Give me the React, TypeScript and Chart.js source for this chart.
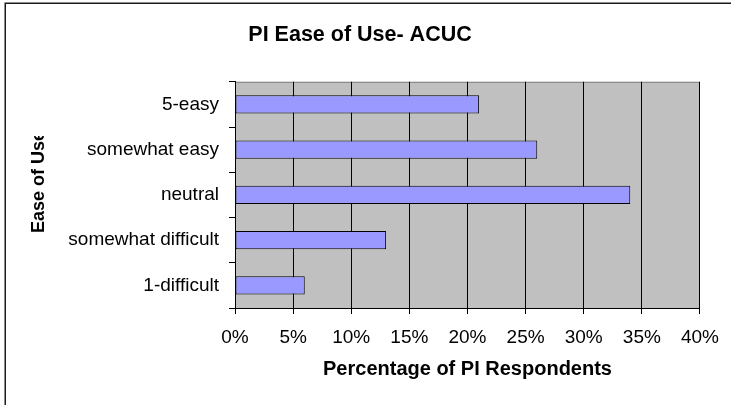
import React, { useEffect, useRef } from "react";
import { Chart, registerables } from "chart.js";

Chart.register(...registerables);

const categories = ["5-easy", "somewhat easy", "neutral", "somewhat difficult", "1-difficult"];
const percentages = [21, 26, 34, 13, 6];
const xTickStep = 5;
const xMin = 0;
const xMax = 40;
const titleText = "PI Ease of Use- ACUC";
const xTitleText = "Percentage of PI Respondents";
const yTitleText = "Ease of Use";

const FONT = "'Liberation Sans', Arial, sans-serif";

const decorPlugin = {
  id: "decor",
  beforeDraw(chart: any) {
    const { ctx, chartArea } = chart;
    ctx.save();
    ctx.fillStyle = "#ffffff";
    ctx.fillRect(0, 0, chart.width, chart.height);
    ctx.strokeStyle = "#1a1a1a";
    ctx.lineWidth = 1.5;
    ctx.beginPath();
    ctx.moveTo(5.25, chart.height);
    ctx.lineTo(5.25, 3.25);
    ctx.lineTo(chart.width, 3.25);
    ctx.stroke();
    ctx.fillStyle = "#C0C0C0";
    ctx.fillRect(chartArea.left, chartArea.top, chartArea.right - chartArea.left, chartArea.bottom - chartArea.top);
    ctx.strokeStyle = "#808080";
    ctx.lineWidth = 1;
    ctx.strokeRect(chartArea.left + 0.5, chartArea.top + 0.5, chartArea.right - chartArea.left - 1, chartArea.bottom - chartArea.top);
    ctx.restore();
  },
  afterDraw(chart: any) {
    const { ctx } = chart;
    ctx.save();
    ctx.beginPath();
    ctx.rect(0, 136, 120, 300);
    ctx.clip();
    ctx.translate(39, 233);
    ctx.rotate(-Math.PI / 2);
    ctx.font = `bold 18px ${FONT}`;
    ctx.fillStyle = "#000";
    ctx.textAlign = "left";
    ctx.textBaseline = "middle";
    ctx.fillText(yTitleText, 0, 0);
    ctx.restore();
  },
};

export default function App() {
  const ref = useRef<HTMLCanvasElement | null>(null);
  useEffect(() => {
    document.body.style.margin = "0";
    document.body.style.overflow = "hidden";
    const canvas = ref.current!;
    const chart = new Chart(canvas, {
      type: "bar",
      data: {
        labels: categories,
        datasets: [
          {
            data: percentages,
            backgroundColor: "#9999FF",
            borderColor: "#000000",
            borderWidth: 1,
            borderSkipped: false,
            categoryPercentage: 1,
            barPercentage: 0.4,
          },
        ],
      },
      options: {
        indexAxis: "y",
        responsive: false,
        animation: false,
        devicePixelRatio: 1,
        layout: { padding: { left: 16, right: 27, top: 0, bottom: 0 } },
        plugins: {
          legend: { display: false },
          tooltip: { enabled: false },
          title: {
            display: true,
            text: titleText,
            color: "#000",
            font: { family: FONT, size: 21.5, weight: "bold" },
            padding: { top: 22, bottom: 34 },
          },
        },
        scales: {
          x: {
            min: xMin,
            max: xMax,
            ticks: {
              stepSize: xTickStep,
              color: "#000",
              font: { family: FONT, size: 19 },
              padding: 12,
              callback: (v: any) => `${v}%`,
            },
            grid: { color: "#000", lineWidth: 1, drawTicks: true, tickLength: 6 },
            border: { display: true, color: "#000", width: 1 },
            title: {
              display: true,
              text: xTitleText,
              color: "#000",
              font: { family: FONT, size: 20, weight: "bold" },
              padding: { top: 0, bottom: 24 },
            },
            afterFit: (scale: any) => {
              scale.height = 97;
            },
          },
          y: {
            ticks: {
              color: "#000",
              font: { family: FONT, size: 19 },
              padding: 10,
            },
            grid: { drawOnChartArea: false, drawTicks: true, tickLength: 6, color: "#000", offset: true },
            border: { display: true, color: "#000", width: 1 },
            afterFit: (scale: any) => {
              scale.width = 219;
            },
          },
        },
      },
      plugins: [decorPlugin],
    } as any);
    return () => chart.destroy();
  }, []);
  return (
    <div style={{ width: 731, height: 405, overflow: "hidden" }}>
      <canvas ref={ref} width={731} height={405} style={{ display: "block" }} />
    </div>
  );
}
